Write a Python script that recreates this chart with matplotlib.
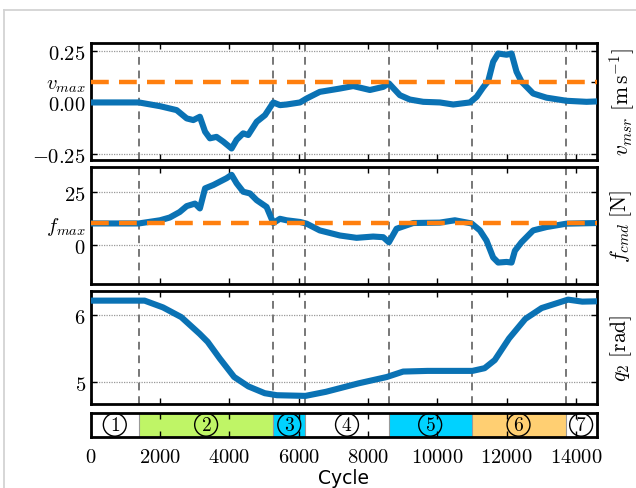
import matplotlib
matplotlib.use("Agg")
import matplotlib.pyplot as plt
from matplotlib.lines import Line2D

plt.rcParams['mathtext.fontset'] = 'cm'

# ---------------- data ----------------
v_cycle = [0, 600, 1390, 2000, 2480, 2770, 2960, 3150, 3300, 3440, 3630, 3825, 4065,
           4210, 4400, 4545, 4790, 5030, 5270, 5460, 5650, 6040, 6230, 6610, 7190,
           7575, 8056, 8440, 8604, 8921, 9210, 9595, 10075, 10460, 10940, 11135,
           11325, 11470, 11612, 11757, 12000, 12143, 12287, 12432, 12767, 13152,
           13730, 14307, 14600]
v_msr = [0.0, 0.0, 0.0, -0.018, -0.037, -0.077, -0.085, -0.069, -0.141, -0.173,
         -0.166, -0.189, -0.222, -0.18, -0.149, -0.157, -0.093, -0.061, 0.0, -0.013,
         -0.01, 0.0, 0.019, 0.051, 0.067, 0.079, 0.06, 0.075, 0.092, 0.035, 0.014,
         0.003, 0.0, -0.01, 0.0, 0.027, 0.073, 0.103, 0.196, 0.236, 0.23, 0.236,
         0.148, 0.1, 0.043, 0.023, 0.008, 0.003, 0.005]

f_cycle = [0, 600, 1390, 2000, 2280, 2567, 2770, 3010, 3150, 3300, 3540, 3730, 3920,
           4065, 4210, 4400, 4595, 4790, 5075, 5270, 5460, 5650, 6040, 6230, 6610,
           7190, 7670, 8150, 8440, 8604, 8825, 9305, 10075, 10508, 10990, 11230,
           11420, 11612, 11757, 12000, 12143, 12240, 12430, 12767, 13152, 13730, 14600]
f_cmd = [10.0, 10.0, 10.0, 11.5, 12.8, 15.4, 18.2, 19.4, 17.1, 26.6, 28.2, 29.8, 31.4,
         33.0, 29.0, 25.0, 24.2, 21.0, 17.8, 10.2, 12.2, 11.5, 10.7, 9.9, 6.7, 4.3,
         3.2, 3.8, 3.5, 1.1, 7.5, 10.2, 10.4, 11.5, 10.0, 6.7, 1.9, -6.1, -8.5, -8.2,
         -8.5, -2.9, 1.1, 6.7, 8.3, 9.9, 10.2]

q_cycle = [0, 1555, 2085, 2613, 3141, 3375, 3729, 4139, 4551, 5021, 5373, 6196, 6783,
           7724, 8546, 9016, 9720, 11013, 11365, 11659, 12071, 12541, 13011, 13773,
           14185, 14600]
q2 = [6.21, 6.21, 6.11, 5.966, 5.72, 5.6, 5.35, 5.08, 4.94, 4.84, 4.81, 4.80, 4.86,
      4.985, 5.08, 5.16, 5.17, 5.17, 5.21, 5.33, 5.65, 5.94, 6.10, 6.225, 6.195, 6.20]

v_max = 0.1
f_max = 10.0

phase_bounds = [0, 1390, 5270, 6190, 8600, 10990, 13700, 14600]
phase_labels = ['1', '2', '3', '4', '5', '6', '7']
phase_colors = ['white', '#bff566', '#00d2ff', 'white', '#00d2ff', '#ffcf72', 'white']
x_ticks = [0, 2000, 4000, 6000, 8000, 10000, 12000, 14000]

# ---------------- style ----------------
BLUE = '#0a72b4'
ORANGE = '#ff7f0e'
XMAX = 14600
tick_fs = 14.8

fig = plt.figure(figsize=(6.36, 4.89), dpi=100)

# light gray frame lines
fig.add_artist(Line2D([4.3 / 636, 4.3 / 636], [0, 1 - 11 / 489], transform=fig.transFigure,
                      color='#d3d3d3', lw=1.3))
fig.add_artist(Line2D([4.3 / 636, 1], [1 - 11 / 489, 1 - 11 / 489], transform=fig.transFigure,
                      color='#d3d3d3', lw=1.3))

L, W = 90.7 / 636, (596.7 - 90.7) / 636


def axpos(top, bottom):
    return [L, 1 - bottom / 489, W, (bottom - top) / 489]


ax1 = fig.add_axes(axpos(44, 161))
ax2 = fig.add_axes(axpos(168, 284.7))
ax3 = fig.add_axes(axpos(291.7, 405))
ax4 = fig.add_axes(axpos(414, 437.5))


def style(ax, yt, ylabels, ylabel):
    ax.set_xlim(0, XMAX)
    ax.set_xticks(x_ticks)
    ax.set_xticklabels([])
    ax.set_yticks(yt)
    ax.set_yticklabels(ylabels, fontsize=tick_fs)
    ax.tick_params(direction='in', top=True, right=True, length=4, width=1.0)
    for s in ax.spines.values():
        s.set_linewidth(2.0)
    for b in phase_bounds[1:-1]:
        ax.axvline(b, color='#777777', ls=(0, (4, 3)), lw=1.4, zorder=1)
    if ylabel:
        ax.yaxis.set_label_position('right')
        ax.set_ylabel(ylabel, fontsize=15.5, labelpad=8)


LW = 4.4

# top: velocity
for g in [-0.25, 0.0, 0.25]:
    ax1.axhline(g, color='#999999', ls=(0, (1, 1)), lw=0.9, zorder=0)
ax1.plot(v_cycle, v_msr, color=BLUE, lw=LW, zorder=3, solid_joinstyle='round',
         solid_capstyle='round')
ax1.axhline(v_max, color=ORANGE, ls=(0, (4.0, 2.3)), lw=3.2, zorder=4)
ax1.set_ylim(-0.2775, 0.2866)
style(ax1, [-0.25, 0.0, v_max, 0.25],
      [r'$-0.25$', r'$0.00$', r'$v_{max}$', r'$0.25$'],
      r'$v_{msr}\ [\mathrm{m\,s^{-1}}]$')

# middle: force
for g in [0, 25]:
    ax2.axhline(g, color='#999999', ls=(0, (1, 1)), lw=0.9, zorder=0)
ax2.plot(f_cycle, f_cmd, color=BLUE, lw=LW, zorder=3, solid_joinstyle='round',
         solid_capstyle='round')
ax2.axhline(f_max, color=ORANGE, ls=(0, (4.0, 2.3)), lw=3.2, zorder=4)
ax2.set_ylim(-18.5, 36.7)
style(ax2, [0, f_max, 25], [r'$0$', r'$f_{max}$', r'$25$'],
      r'$f_{cmd}\ [\mathrm{N}]$')

# bottom: joint position
for g in [5, 6]:
    ax3.axhline(g, color='#999999', ls=(0, (1, 1)), lw=0.9, zorder=0)
ax3.plot(q_cycle, q2, color=BLUE, lw=LW, zorder=3, solid_joinstyle='round',
         solid_capstyle='round')
ax3.set_ylim(4.68, 6.357)
style(ax3, [5, 6], [r'$5$', r'$6$'], r'$q_2\ [\mathrm{rad}]$')

# phase bar
ax4.set_xlim(0, XMAX)
ax4.set_ylim(0, 1)
for i in range(len(phase_labels)):
    a, b = phase_bounds[i], phase_bounds[i + 1]
    ax4.axvspan(a, b, color=phase_colors[i], lw=0, zorder=0)
    ax4.text((a + b) / 2, 0.5, r'$%s$' % phase_labels[i], ha='center', va='center',
             fontsize=14, zorder=3,
             bbox=dict(boxstyle='circle,pad=0.1', fc='none', ec='black', lw=1.0))
for b in phase_bounds[1:-1]:
    ax4.axvline(b, color='#999999', lw=0.8, zorder=1)
ax4.set_yticks([])
ax4.set_xticks(x_ticks)
ax4.set_xticklabels([r'$%d$' % t for t in x_ticks], fontsize=tick_fs)
ax4.tick_params(direction='in', top=True, length=4, width=1.0, pad=7)
for s in ax4.spines.values():
    s.set_linewidth(2.0)
ax4.set_xlabel('Cycle', fontsize=13.5, family='DejaVu Sans', labelpad=1)

fig.savefig('out.png', dpi=100)
